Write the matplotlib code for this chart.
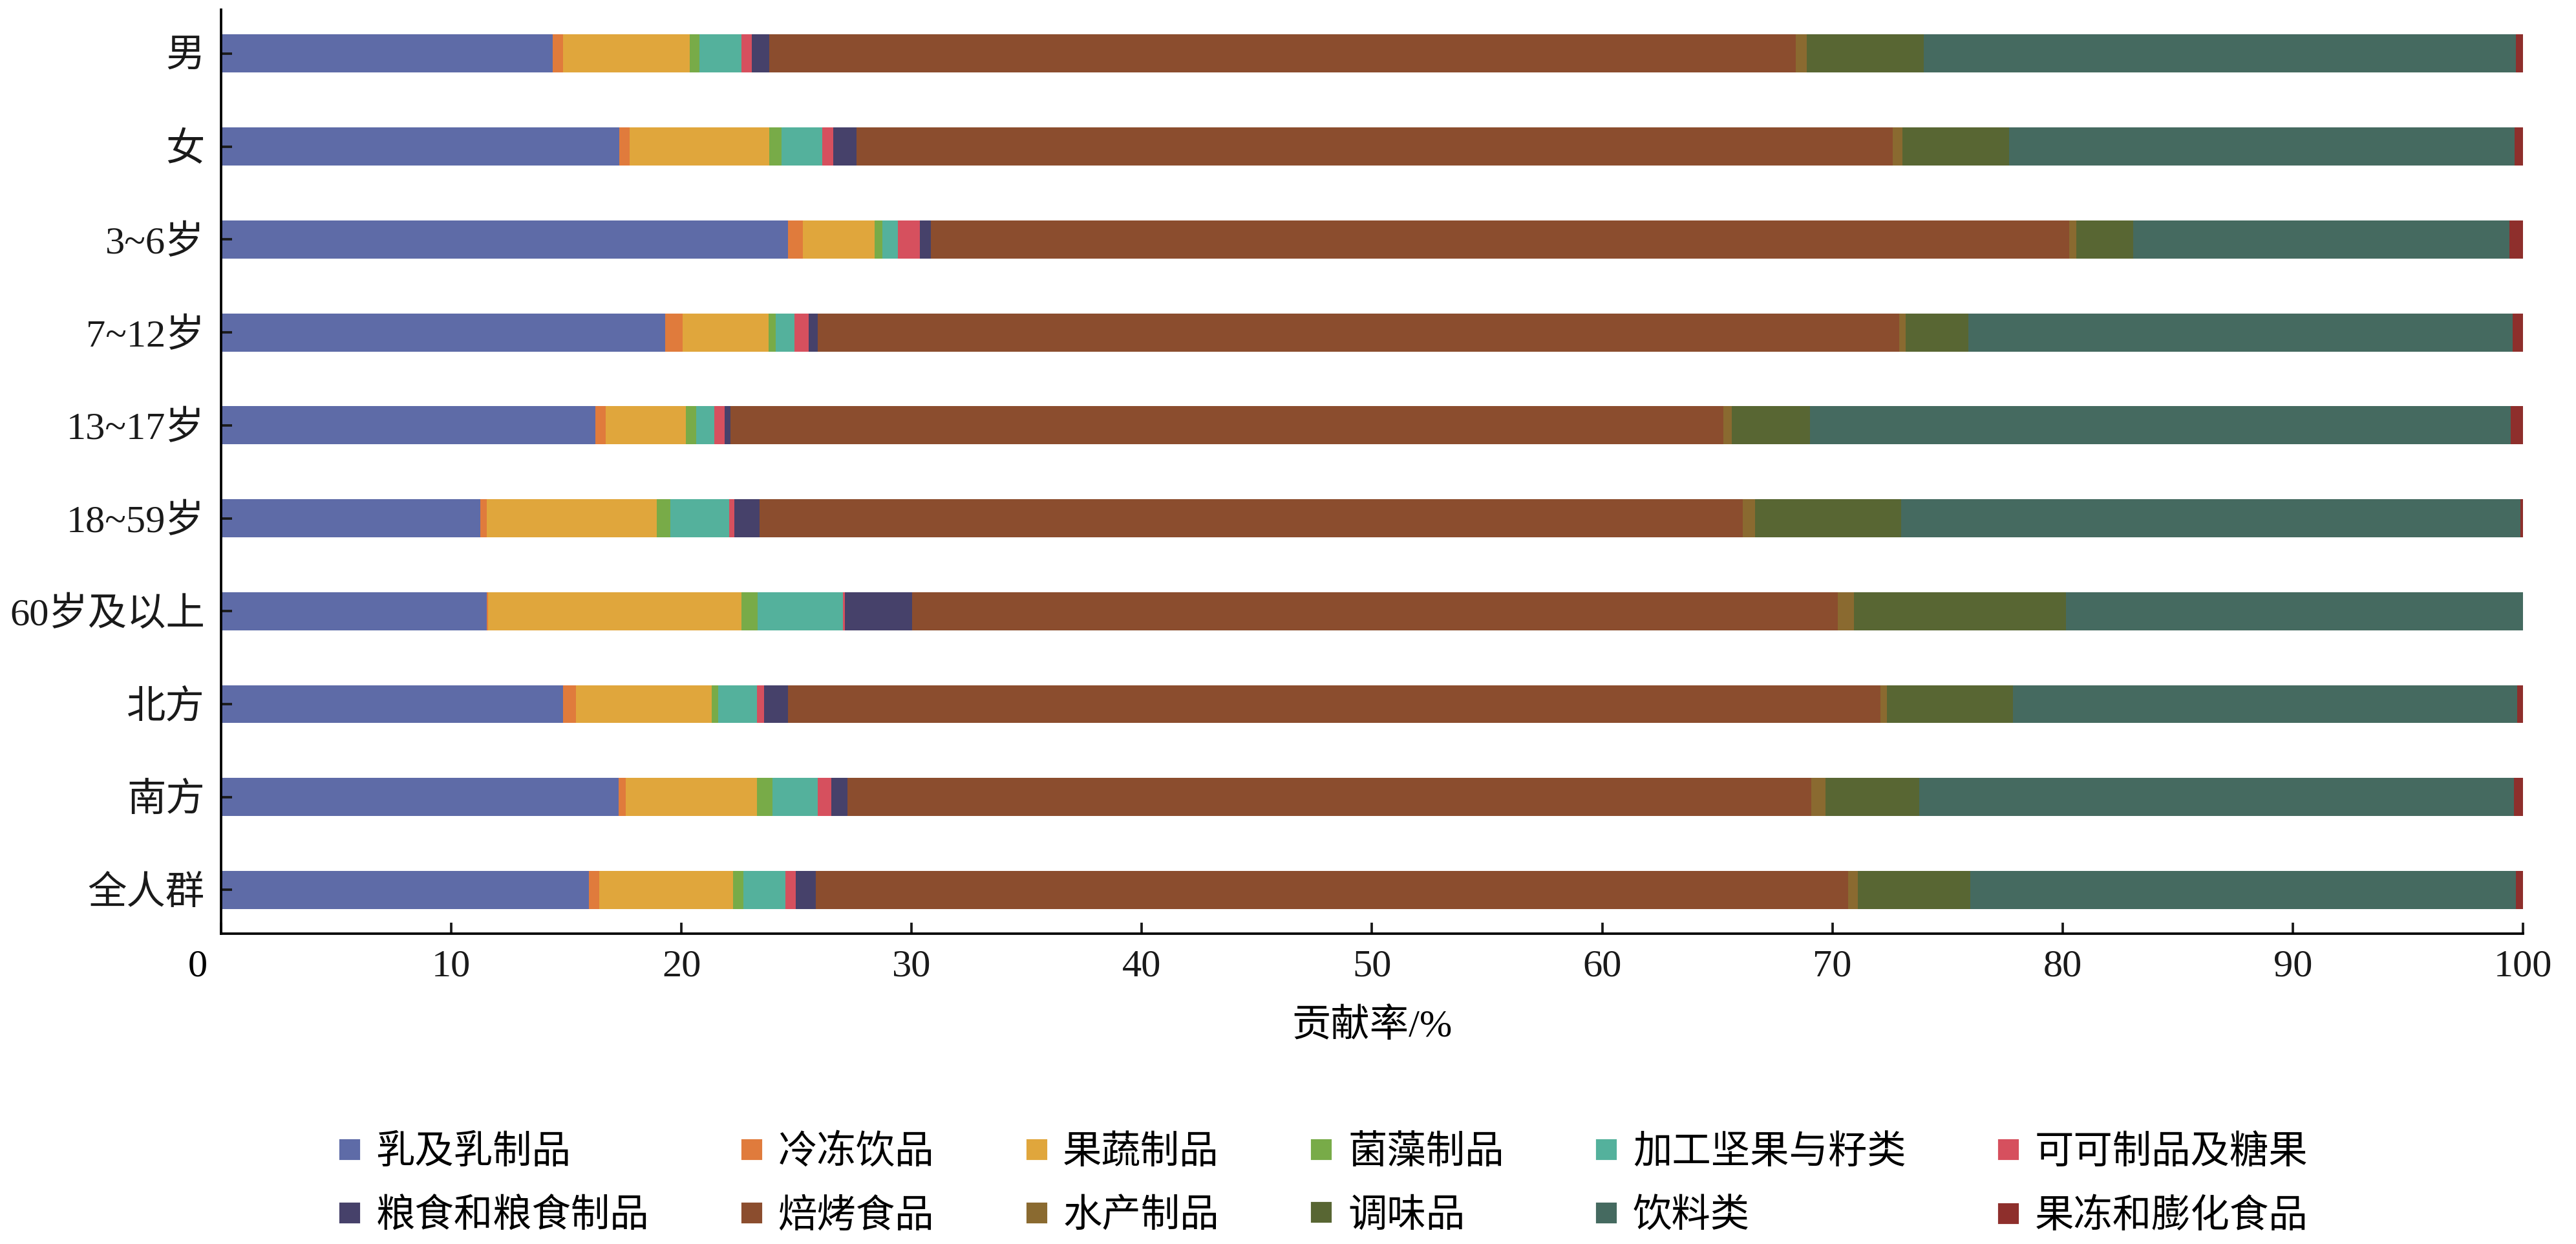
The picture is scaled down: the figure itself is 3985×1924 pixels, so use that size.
import matplotlib
matplotlib.use("Agg")
import matplotlib.pyplot as plt
from matplotlib.lines import Line2D
import numpy as np

plt.rcParams['font.family'] = ['Liberation Serif', 'Noto Sans CJK SC']
plt.rcParams['axes.unicode_minus'] = False

# 人群分组 (从上到下)
groups = ['男', '女', '3~6岁', '7~12岁', '13~17岁', '18~59岁', '60岁及以上', '北方', '南方', '全人群']

foods = ['乳及乳制品', '冷冻饮品', '果蔬制品', '菌藻制品', '加工坚果与籽类', '可可制品及糖果',
         '粮食和粮食制品', '焙烤食品', '水产制品', '调味品', '饮料类', '果冻和膨化食品']

colors = ['#5E6BA7', '#E07B3C', '#E0A63C', '#78AB48', '#54B19C', '#D6505E',
          '#46416A', '#8B4D2E', '#8A6A30', '#586633', '#456A60', '#8E2F2C']

# 各类食品贡献率 (%)，顺序同 groups
dairy = [14.41, 17.31, 24.64, 19.29, 16.26, 11.25, 11.55, 14.86, 17.27, 15.98]
frozen = [0.45, 0.45, 0.64, 0.75, 0.45, 0.30, 0.06, 0.56, 0.30, 0.45]
fruit_veg = [5.50, 6.06, 3.12, 3.76, 3.48, 7.39, 11.01, 5.89, 5.71, 5.80]
fungi = [0.43, 0.52, 0.32, 0.30, 0.45, 0.58, 0.68, 0.30, 0.69, 0.47]
nuts = [1.83, 1.78, 0.69, 0.82, 0.80, 2.56, 3.72, 1.67, 1.96, 1.81]
cocoa = [0.43, 0.47, 0.96, 0.62, 0.45, 0.22, 0.07, 0.30, 0.58, 0.45]
cereal = [0.77, 1.01, 0.48, 0.39, 0.23, 1.09, 2.92, 1.06, 0.71, 0.88]
baked = [44.58, 45.01, 49.43, 46.98, 43.15, 42.72, 40.22, 47.45, 41.87, 44.84]
aquatic = [0.49, 0.43, 0.32, 0.27, 0.37, 0.53, 0.72, 0.28, 0.60, 0.42]
seasoning = [5.09, 4.63, 2.46, 2.73, 3.38, 6.35, 9.21, 5.48, 4.09, 4.88]
beverage = [25.72, 21.98, 16.35, 23.65, 30.46, 26.91, 19.84, 21.90, 25.82, 23.72]
jelly = [0.33, 0.35, 0.59, 0.44, 0.52, 0.10, 0.02, 0.25, 0.40, 0.30]

series = [dairy, frozen, fruit_veg, fungi, nuts, cocoa, cereal, baked, aquatic, seasoning, beverage, jelly]

FS = 14.5

fig = plt.figure(figsize=(3985 / 300, 1924 / 300), dpi=300)
ax = fig.add_axes([0.0858, 0.2495, 0.9794 - 0.0858, 0.992 - 0.2495])

y = np.arange(len(groups))
left = np.zeros(len(groups))
for vals, c, name in zip(series, colors, foods):
    ax.barh(y, vals, left=left, height=0.41, color=c, label=name, linewidth=0)
    left += np.array(vals)

ax.set_ylim(len(groups) - 0.53, -0.47)
ax.set_xlim(0, 100)
ax.set_yticks(y)
ax.set_yticklabels(groups, fontsize=FS)
ax.set_xticks(range(0, 101, 10))
ax.set_xticklabels([''] + [str(v) for v in range(10, 101, 10)], fontsize=FS)
# "0" 略偏左
ax.annotate('0', xy=(0, 0), xycoords=('data', 'axes fraction'), xytext=(-8.6, -6),
            textcoords='offset points', ha='center', va='top', fontsize=FS)

ax.spines['top'].set_visible(False)
ax.spines['right'].set_visible(False)
ax.spines['left'].set_linewidth(0.9)
ax.spines['bottom'].set_linewidth(0.9)
ax.tick_params(axis='both', direction='in', length=4, width=0.9, colors='#1a1a1a')
ax.tick_params(axis='y', pad=6)
ax.tick_params(axis='x', pad=6)
ax.set_xlabel('贡献率/%', fontsize=FS, labelpad=9)

# 图例: 两行六列，按列填充
order = [0, 6, 1, 7, 2, 8, 3, 9, 4, 10, 5, 11]
handles = [Line2D([], [], marker='s', ls='', color=colors[i], markersize=6.5) for i in order]
labels = [foods[i] for i in order]
fig.legend(handles, labels, loc='center left', bbox_to_anchor=(521 / 3985, 0.0473),
           ncol=6, frameon=False, fontsize=FS, handlelength=0.65, handletextpad=0.35,
           columnspacing=2.3, labelspacing=0.7, borderpad=0, borderaxespad=0)

fig.savefig('out.png', dpi=300)
